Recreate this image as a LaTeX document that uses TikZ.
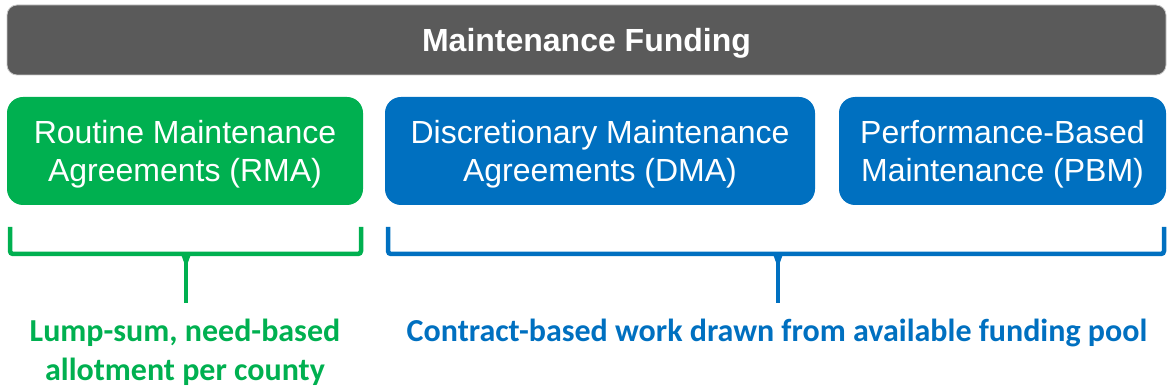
\documentclass[tikz,border=0pt]{standalone}
\usepackage{fontspec}
\setmainfont{Liberation Sans}
\newfontfamily\labelfont{Carlito}
\definecolor{barGrey}{HTML}{5A5A5A}
\definecolor{barEdge}{HTML}{C8C8C8}
\definecolor{rmaGreen}{HTML}{00B050}
\definecolor{dmaBlue}{HTML}{0070C0}
\tikzset{
  x=1pt, y=1pt,
  boxtext/.style={font=\fontsize{32}{38.5}\selectfont, text=white, align=center, text depth=0pt},
  catbox/.style={boxtext, rounded corners=16pt, minimum height=108pt, inner sep=0pt},
  bracketline/.style={line width=4.5pt, rounded corners=3pt},
  stemline/.style={line width=4.5pt},
  bottomlabel/.style={font=\labelfont\bfseries\fontsize{32}{40}\selectfont, anchor=base, inner sep=0pt}
}
\begin{document}
\begin{tikzpicture}
\useasboundingbox (0,0) rectangle (1167,391);
% title bar
\node[fill=barGrey, draw=barEdge, line width=0.8pt, rounded corners=10pt,
      minimum width=1159pt, minimum height=70pt, inner sep=0pt, text depth=0pt,
      text=white, font=\bfseries\fontsize{32}{38}\selectfont] (title) at (586.5,351) {Maintenance Funding};
% category boxes
\node[catbox, fill=rmaGreen, minimum width=356pt] (rma) at (185,240) {Routine Maintenance\\Agreements (RMA)};
\node[catbox, fill=dmaBlue, minimum width=430pt] (dma) at (600,240) {Discretionary Maintenance\\Agreements (DMA)};
\node[catbox, fill=dmaBlue, minimum width=327pt] (pbm) at (1002.5,240) {Performance-Based\\Maintenance (PBM)};
% bracket coordinates
\coordinate (gL) at (10,164);
\coordinate (gR) at (361,164);
\coordinate (gJ) at (186,137);
\coordinate (gS) at (186,88);
\coordinate (bL) at (388,164);
\coordinate (bR) at (1164,164);
\coordinate (bJ) at (778,137);
\coordinate (bS) at (778,88);
% green bracket
\draw[bracketline, rmaGreen] (gL) |- (gR |- gJ) -- (gR);
\draw[stemline, rmaGreen] (gJ) -- (gS);
\fill[rmaGreen] ([xshift=-5pt]gJ) -- ([xshift=5pt]gJ) -- ([yshift=-14pt]gJ) -- cycle;
% blue bracket
\draw[bracketline, dmaBlue] (bL) |- (bR |- bJ) -- (bR);
\draw[stemline, dmaBlue] (bJ) -- (bS);
\fill[dmaBlue] ([xshift=-5pt]bJ) -- ([xshift=5pt]bJ) -- ([yshift=-14pt]bJ) -- cycle;
% labels
\node[bottomlabel, text=rmaGreen] (rmaNote1) at (185,49) {Lump-sum, need-based};
\node[bottomlabel, text=rmaGreen] (rmaNote2) at (185,11) {allotment per county};
\node[bottomlabel, text=dmaBlue] (poolNote) at (777,49) {Contract-based work drawn from available funding pool};
\end{tikzpicture}
\end{document}
